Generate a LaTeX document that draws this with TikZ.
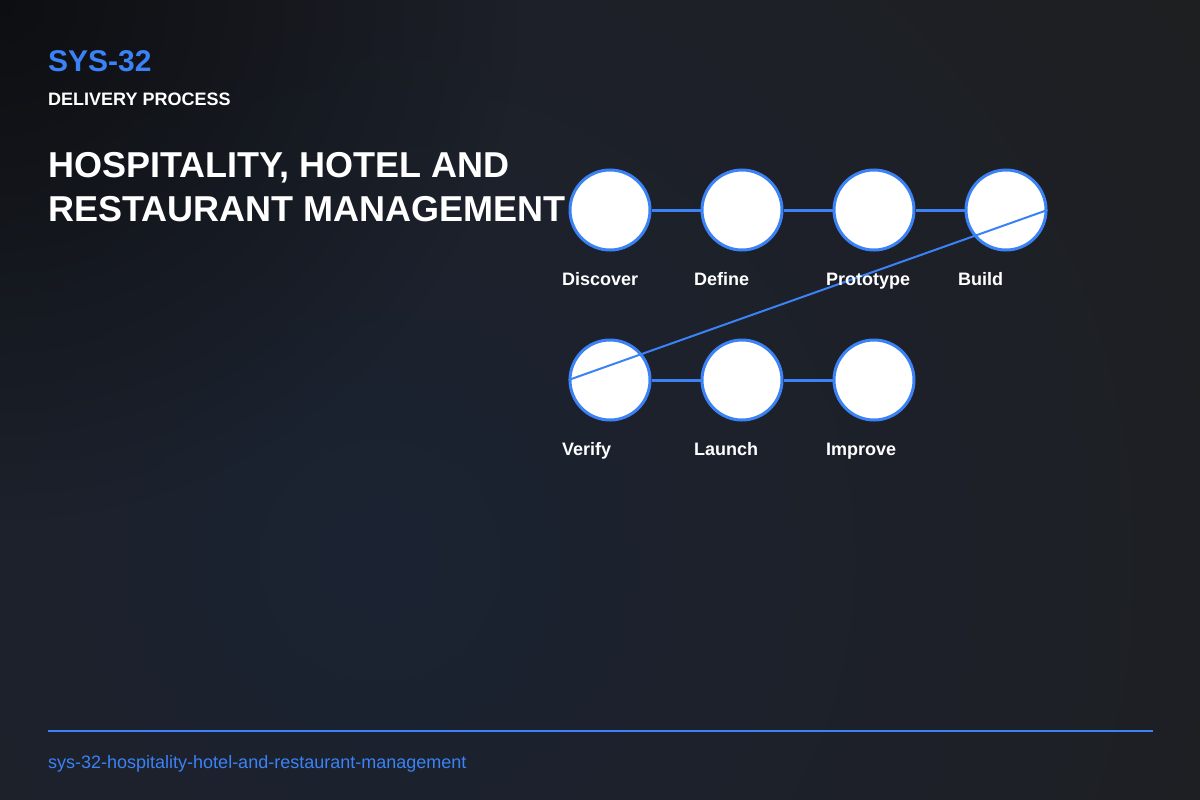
\documentclass[tikz,border=0pt]{standalone}
\usepackage{fontspec}
\setmainfont{Liberation Sans}
\usetikzlibrary{positioning,fadings}

\definecolor{accent}{HTML}{3B82F6}
\definecolor{bggray}{HTML}{1F1F21}
\definecolor{bgnavy}{HTML}{1B2332}
\tikzfading[name=glow, inner color=transparent!0, outer color=transparent!100]

\begin{document}
\begin{tikzpicture}[x=1pt,y=-1pt]
	\tikzset{stage/.style={circle,draw=accent,line width=3pt,fill=white,minimum size=80pt,inner sep=0pt}}
	\tikzset{stagename/.style={anchor=base west,inner sep=0pt,text=white,font=\bfseries\fontsize{18}{22}\selectfont}}
	\tikzset{heading/.style={anchor=base west,inner sep=0pt,text=white,font=\bfseries\fontsize{36}{44}\selectfont}}
	\tikzset{link/.style={draw=accent,line width=3pt}}
	% background
	\useasboundingbox (0,0) rectangle (1200,800);
	\fill[bggray] (0,0) rectangle (1200,800);
	\begin{scope}
		\clip (0,0) rectangle (1200,800);
		\fill[bgnavy,path fading=glow] (380,560) circle (1000);
		\fill[black,opacity=0.55,path fading=glow] (0,0) circle (520);
	\end{scope}
	% header
	\node[anchor=base west,inner sep=0pt,text=accent,font=\bfseries\fontsize{30}{36}\selectfont] (code) at (48,72) {SYS-32};
	\node[anchor=base west,inner sep=0pt,text=white,font=\bfseries\fontsize{18}{22}\selectfont] (kind) at (48,105) {DELIVERY PROCESS};
	\node[heading] (title1) at (48,177) {HOSPITALITY, HOTEL AND};
	\node[heading] (title2) at (48,221) {RESTAURANT MANAGEMENT};
	% stages
	\node[stage] (discover) at (610,210) {};
	\node[stage] (define) at (742,210) {};
	\node[stage] (prototype) at (874,210) {};
	\node[stage] (build) at (1006,210) {};
	\node[stage] (verify) at (610,380) {};
	\node[stage] (launch) at (742,380) {};
	\node[stage] (improve) at (874,380) {};
	\path[link]
		(discover) edge (define)
		(define) edge (prototype)
		(prototype) edge (build)
		(verify) edge (launch)
		(launch) edge (improve);
	\draw[accent,line width=2pt] (build.east) -- (verify.west);
	\node[stagename] (discovertxt) at (562,285) {Discover};
	\node[stagename] (definetxt) at (694,285) {Define};
	\node[stagename] (prototypetxt) at (826,285) {Prototype};
	\node[stagename] (buildtxt) at (958,285) {Build};
	\node[stagename] (verifytxt) at (562,455) {Verify};
	\node[stagename] (launchtxt) at (694,455) {Launch};
	\node[stagename] (improvetxt) at (826,455) {Improve};
	% footer
	\coordinate (rulestart) at (48,731);
	\coordinate (ruleend) at (1153,731);
	\draw[accent,line width=2pt] (rulestart) -- (ruleend);
	\node[anchor=base west,inner sep=0pt,text=accent,font=\fontsize{18}{22}\selectfont] (slug) at (48,768) {sys-32-hospitality-hotel-and-restaurant-management};
\end{tikzpicture}
\end{document}
